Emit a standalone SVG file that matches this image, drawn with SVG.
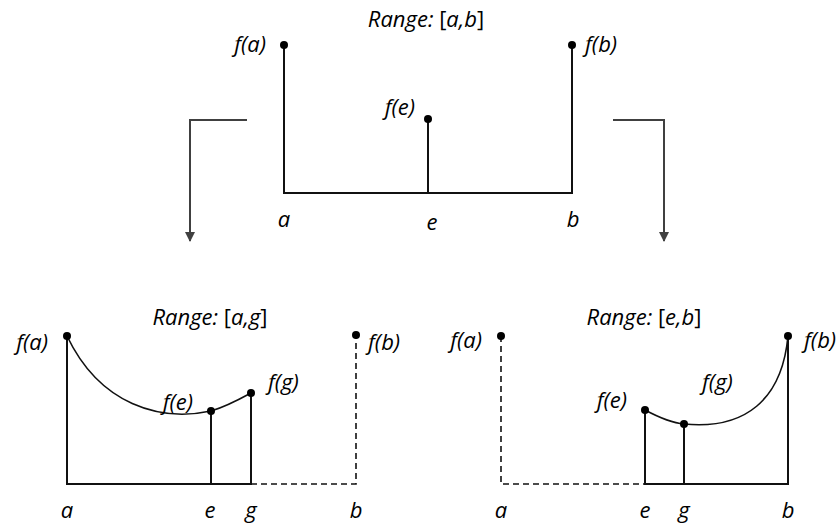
<svg xmlns="http://www.w3.org/2000/svg" width="839" height="526" viewBox="0 0 839 526">
<style>
text{font-family:"Open Sans","Noto Sans","Liberation Sans",sans-serif;font-style:italic;font-size:22px;fill:#000}
.up{font-style:normal}
.ln{stroke:#111;stroke-width:2;fill:none}
.cv{stroke:#111;stroke-width:1.6;fill:none}
.ds{stroke:#111;stroke-width:1.6;fill:none;stroke-dasharray:6,4}
.dot{fill:#000}
.ar{stroke:#404040;stroke-width:2;fill:none}
</style>
<defs>
<marker id="ah" viewBox="0 0 10 10" refX="9" refY="5" markerWidth="5" markerHeight="5" orient="auto" markerUnits="strokeWidth">
<path d="M0,0 L10,5 L0,10 Z" fill="#404040"/>
</marker>
</defs>

<g id="top">
<text x="426" y="27" text-anchor="middle">Range: <tspan class="up">[</tspan>a,b<tspan class="up">]</tspan></text>
<path class="ln" d="M284,45 V193 H572 V45 M428,119 V193"/>
<circle class="dot" cx="284" cy="45" r="4"/>
<circle class="dot" cx="572" cy="45" r="4"/>
<circle class="dot" cx="428" cy="119" r="4"/>
<text x="266" y="52" text-anchor="end">f(a)</text>
<text x="585" y="52">f(b)</text>
<text x="415" y="115" text-anchor="end">f(e)</text>
<text x="284" y="227" text-anchor="middle">a</text>
<text x="432" y="230" text-anchor="middle">e</text>
<text x="573" y="227" text-anchor="middle">b</text>
</g>

<g id="connectors">
<path class="ar" d="M247,120 H190 V241" marker-end="url(#ah)"/>
<path class="ar" d="M613,120 H664 V241" marker-end="url(#ah)"/>
</g>

<g id="left">
<text x="210" y="325" text-anchor="middle">Range: <tspan class="up">[</tspan>a,g<tspan class="up">]</tspan></text>
<path class="ln" d="M67,336 V484 H251 V393 M211,411 V484"/>
<path class="ds" d="M251,484 H356 V336"/>
<path class="cv" d="M67,336 C100,405 160,422 211,411 C225,407 240,399 251,393"/>
<circle class="dot" cx="67" cy="336" r="4"/>
<circle class="dot" cx="211" cy="411" r="4"/>
<circle class="dot" cx="251" cy="393" r="4"/>
<circle class="dot" cx="356" cy="335" r="4"/>
<text x="48" y="350" text-anchor="end">f(a)</text>
<text x="368" y="350">f(b)</text>
<text x="268" y="390">f(g)</text>
<text x="193" y="410" text-anchor="end">f(e)</text>
<text x="67" y="518" text-anchor="middle">a</text>
<text x="210" y="518" text-anchor="middle">e</text>
<text x="251" y="518" text-anchor="middle">g</text>
<text x="356" y="518" text-anchor="middle">b</text>
</g>

<g id="right">
<text x="644" y="325" text-anchor="middle">Range: <tspan class="up">[</tspan>e,b<tspan class="up">]</tspan></text>
<path class="ds" d="M501,336 V484 H645"/>
<path class="ln" d="M645,410 V484 H788 V336 M684,424 V484"/>
<path class="cv" d="M645,410 C660,418 672,423 684,424 C745,430 782,400 788,336"/>
<circle class="dot" cx="501" cy="336" r="4"/>
<circle class="dot" cx="645" cy="410" r="4"/>
<circle class="dot" cx="684" cy="424" r="4"/>
<circle class="dot" cx="788" cy="336" r="4"/>
<text x="482" y="348" text-anchor="end">f(a)</text>
<text x="804" y="348">f(b)</text>
<text x="702" y="390">f(g)</text>
<text x="627" y="408" text-anchor="end">f(e)</text>
<text x="501" y="518" text-anchor="middle">a</text>
<text x="645" y="518" text-anchor="middle">e</text>
<text x="684" y="518" text-anchor="middle">g</text>
<text x="788" y="518" text-anchor="middle">b</text>
</g>
</svg>
